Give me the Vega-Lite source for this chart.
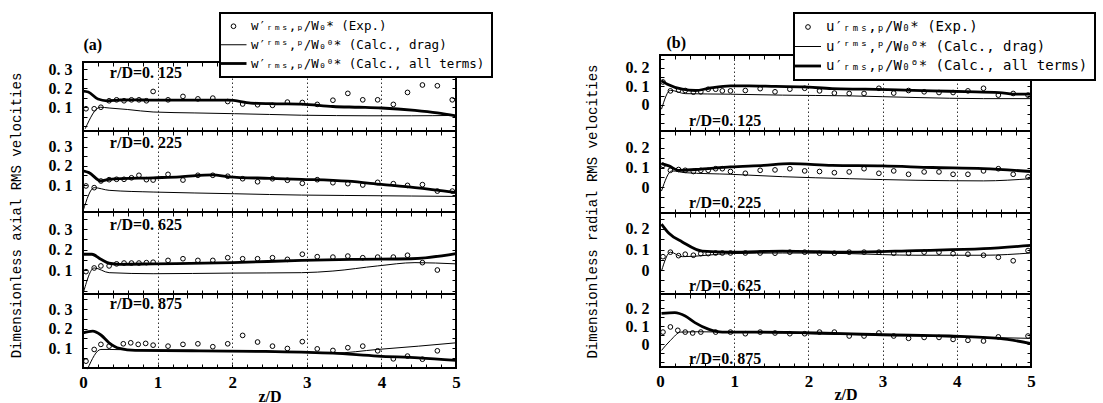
{
  "$schema": "https://vega.github.io/schema/vega-lite/v6.json",
  "background": "white",
  "padding": {"left": 7, "top": 11, "right": 0, "bottom": 0},
  "spacing": 89,
  "resolve": {"scale": {"color": "independent", "shape": "independent", "size": "independent", "strokeWidth": "independent"}, "legend": {"color": "independent", "shape": "independent", "size": "independent", "strokeWidth": "independent"}},
  "config": {
    "view": {"stroke": "black", "strokeWidth": 2},
    "axis": {"domain": false, "grid": false, "tickColor": "black", "tickWidth": 1, "labelColor": "black", "labelFont": "Liberation Serif", "labelFontWeight": "bold", "labelFontSize": 16, "labelOverlap": false, "labelFlush": false, "labelPadding": 15, "titleColor": "black", "titleFont": "Liberation Serif", "titleFontWeight": "bold", "titleFontSize": 16},
    "legend": {"labelFont": "DejaVu Sans Mono", "labelFontSize": 12.5, "labelColor": "black", "labelLimit": 500, "strokeColor": "black", "strokeWidth": 2, "fillColor": "white", "padding": 7, "symbolSize": 100, "labelOffset": 11, "rowPadding": 5.5, "symbolStrokeColor": "black", "symbolFillColor": "transparent"}
  },
  "datasets": {
    "a1": [
      {"s":"exp","z":0.04,"v":0.092},{"s":"exp","z":0.15,"v":0.092},{"s":"exp","z":0.24,"v":0.1},{"s":"exp","z":0.35,"v":0.134},{"s":"exp","z":0.45,"v":0.139},{"s":"exp","z":0.55,"v":0.134},{"s":"exp","z":0.65,"v":0.139},{"s":"exp","z":0.75,"v":0.139},{"s":"exp","z":0.85,"v":0.134},{"s":"exp","z":0.94,"v":0.183},{"s":"exp","z":1.14,"v":0.139},{"s":"exp","z":1.34,"v":0.157},{"s":"exp","z":1.54,"v":0.144},{"s":"exp","z":1.74,"v":0.148},{"s":"exp","z":1.94,"v":0.13},{"s":"exp","z":2.14,"v":0.117},{"s":"exp","z":2.34,"v":0.113},{"s":"exp","z":2.54,"v":0.11},{"s":"exp","z":2.74,"v":0.127},{"s":"exp","z":2.94,"v":0.125},{"s":"exp","z":3.14,"v":0.115},{"s":"exp","z":3.35,"v":0.137},{"s":"exp","z":3.55,"v":0.173},{"s":"exp","z":3.75,"v":0.139},{"s":"exp","z":3.95,"v":0.139},{"s":"exp","z":4.16,"v":0.115},{"s":"exp","z":4.35,"v":0.178},{"s":"exp","z":4.55,"v":0.217},{"s":"exp","z":4.75,"v":0.213},{"s":"exp","z":4.95,"v":0.139},
      {"s":"drag","z":0.03,"v":-0.013},{"s":"drag","z":0.23,"v":0.1},{"s":"drag","z":0.35,"v":0.096},{"s":"drag","z":0.6,"v":0.088},{"s":"drag","z":0.94,"v":0.075},{"s":"drag","z":1.5,"v":0.07},{"s":"drag","z":2.03,"v":0.066},{"s":"drag","z":2.5,"v":0.062},{"s":"drag","z":2.93,"v":0.058},{"s":"drag","z":3.4,"v":0.056},{"s":"drag","z":3.82,"v":0.055},{"s":"drag","z":4.4,"v":0.055},{"s":"drag","z":4.98,"v":0.057},
      {"s":"all","z":0.0,"v":0.185},{"s":"all","z":0.07,"v":0.18},{"s":"all","z":0.2,"v":0.143},{"s":"all","z":0.32,"v":0.134},{"s":"all","z":0.5,"v":0.138},{"s":"all","z":0.7,"v":0.139},{"s":"all","z":0.94,"v":0.137},{"s":"all","z":1.3,"v":0.137},{"s":"all","z":1.6,"v":0.137},{"s":"all","z":1.95,"v":0.137},{"s":"all","z":2.25,"v":0.122},{"s":"all","z":2.6,"v":0.118},{"s":"all","z":2.93,"v":0.116},{"s":"all","z":3.35,"v":0.104},{"s":"all","z":3.7,"v":0.1},{"s":"all","z":4.0,"v":0.096},{"s":"all","z":4.45,"v":0.083},{"s":"all","z":4.75,"v":0.07},{"s":"all","z":5.0,"v":0.055}
    ],
    "a2": [
      {"s":"exp","z":0.04,"v":0.095},{"s":"exp","z":0.15,"v":0.086},{"s":"exp","z":0.24,"v":0.121},{"s":"exp","z":0.35,"v":0.128},{"s":"exp","z":0.45,"v":0.13},{"s":"exp","z":0.55,"v":0.13},{"s":"exp","z":0.65,"v":0.138},{"s":"exp","z":0.75,"v":0.151},{"s":"exp","z":0.85,"v":0.128},{"s":"exp","z":0.94,"v":0.126},{"s":"exp","z":1.14,"v":0.156},{"s":"exp","z":1.34,"v":0.126},{"s":"exp","z":1.54,"v":0.151},{"s":"exp","z":1.74,"v":0.151},{"s":"exp","z":1.94,"v":0.146},{"s":"exp","z":2.14,"v":0.133},{"s":"exp","z":2.34,"v":0.117},{"s":"exp","z":2.54,"v":0.133},{"s":"exp","z":2.74,"v":0.125},{"s":"exp","z":2.94,"v":0.109},{"s":"exp","z":3.14,"v":0.128},{"s":"exp","z":3.35,"v":0.112},{"s":"exp","z":3.55,"v":0.107},{"s":"exp","z":3.75,"v":0.1},{"s":"exp","z":3.95,"v":0.114},{"s":"exp","z":4.16,"v":0.107},{"s":"exp","z":4.35,"v":0.098},{"s":"exp","z":4.55,"v":0.102},{"s":"exp","z":4.75,"v":0.068},{"s":"exp","z":4.95,"v":0.068},
      {"s":"drag","z":0.0,"v":-0.037},{"s":"drag","z":0.15,"v":0.086},{"s":"drag","z":0.35,"v":0.072},{"s":"drag","z":0.94,"v":0.063},{"s":"drag","z":1.5,"v":0.058},{"s":"drag","z":2.03,"v":0.054},{"s":"drag","z":2.5,"v":0.05},{"s":"drag","z":2.93,"v":0.047},{"s":"drag","z":3.5,"v":0.045},{"s":"drag","z":3.82,"v":0.044},{"s":"drag","z":4.4,"v":0.042},{"s":"drag","z":5.0,"v":0.04},
      {"s":"all","z":0.0,"v":0.174},{"s":"all","z":0.08,"v":0.165},{"s":"all","z":0.24,"v":0.121},{"s":"all","z":0.35,"v":0.13},{"s":"all","z":0.94,"v":0.138},{"s":"all","z":1.3,"v":0.143},{"s":"all","z":1.74,"v":0.153},{"s":"all","z":1.95,"v":0.143},{"s":"all","z":2.5,"v":0.135},{"s":"all","z":2.93,"v":0.13},{"s":"all","z":3.55,"v":0.12},{"s":"all","z":4.0,"v":0.103},{"s":"all","z":4.45,"v":0.086},{"s":"all","z":5.0,"v":0.06}
    ],
    "a3": [
      {"s":"exp","z":0.04,"v":0.092},{"s":"exp","z":0.15,"v":0.11},{"s":"exp","z":0.24,"v":0.12},{"s":"exp","z":0.35,"v":0.12},{"s":"exp","z":0.45,"v":0.13},{"s":"exp","z":0.55,"v":0.134},{"s":"exp","z":0.65,"v":0.134},{"s":"exp","z":0.75,"v":0.134},{"s":"exp","z":0.85,"v":0.136},{"s":"exp","z":0.94,"v":0.138},{"s":"exp","z":1.14,"v":0.147},{"s":"exp","z":1.34,"v":0.155},{"s":"exp","z":1.54,"v":0.147},{"s":"exp","z":1.74,"v":0.147},{"s":"exp","z":1.94,"v":0.16},{"s":"exp","z":2.14,"v":0.155},{"s":"exp","z":2.34,"v":0.155},{"s":"exp","z":2.54,"v":0.16},{"s":"exp","z":2.74,"v":0.152},{"s":"exp","z":2.94,"v":0.177},{"s":"exp","z":3.14,"v":0.165},{"s":"exp","z":3.35,"v":0.163},{"s":"exp","z":3.55,"v":0.168},{"s":"exp","z":3.75,"v":0.16},{"s":"exp","z":3.95,"v":0.163},{"s":"exp","z":4.16,"v":0.163},{"s":"exp","z":4.35,"v":0.172},{"s":"exp","z":4.55,"v":0.136},{"s":"exp","z":4.75,"v":0.1},
      {"s":"drag","z":0.0,"v":-0.017},{"s":"drag","z":0.15,"v":0.11},{"s":"drag","z":0.35,"v":0.087},{"s":"drag","z":0.94,"v":0.082},{"s":"drag","z":2.0,"v":0.085},{"s":"drag","z":2.93,"v":0.087},{"s":"drag","z":3.35,"v":0.095},{"s":"drag","z":3.95,"v":0.12},{"s":"drag","z":4.45,"v":0.136},{"s":"drag","z":5.0,"v":0.13},
      {"s":"all","z":0.0,"v":0.177},{"s":"all","z":0.12,"v":0.177},{"s":"all","z":0.24,"v":0.152},{"s":"all","z":0.35,"v":0.133},{"s":"all","z":0.5,"v":0.128},{"s":"all","z":0.94,"v":0.13},{"s":"all","z":2.0,"v":0.136},{"s":"all","z":2.93,"v":0.147},{"s":"all","z":3.6,"v":0.152},{"s":"all","z":4.4,"v":0.155},{"s":"all","z":5.0,"v":0.18}
    ],
    "a4": [
      {"s":"exp","z":0.04,"v":0.033},{"s":"exp","z":0.15,"v":0.093},{"s":"exp","z":0.24,"v":0.119},{"s":"exp","z":0.35,"v":0.11},{"s":"exp","z":0.54,"v":0.122},{"s":"exp","z":0.64,"v":0.127},{"s":"exp","z":0.74,"v":0.119},{"s":"exp","z":0.84,"v":0.124},{"s":"exp","z":0.94,"v":0.115},{"s":"exp","z":1.14,"v":0.11},{"s":"exp","z":1.34,"v":0.119},{"s":"exp","z":1.54,"v":0.122},{"s":"exp","z":1.74,"v":0.107},{"s":"exp","z":1.94,"v":0.122},{"s":"exp","z":2.14,"v":0.165},{"s":"exp","z":2.34,"v":0.131},{"s":"exp","z":2.54,"v":0.11},{"s":"exp","z":2.74,"v":0.098},{"s":"exp","z":2.94,"v":0.133},{"s":"exp","z":3.14,"v":0.096},{"s":"exp","z":3.35,"v":0.088},{"s":"exp","z":3.55,"v":0.102},{"s":"exp","z":3.75,"v":0.11},{"s":"exp","z":3.95,"v":0.086},{"s":"exp","z":4.16,"v":0.045},{"s":"exp","z":4.35,"v":0.059},{"s":"exp","z":4.55,"v":0.043},{"s":"exp","z":4.75,"v":0.086},
      {"s":"drag","z":0.06,"v":-0.008},{"s":"drag","z":0.24,"v":0.093},{"s":"drag","z":0.35,"v":0.093},{"s":"drag","z":0.94,"v":0.088},{"s":"drag","z":2.03,"v":0.083},{"s":"drag","z":2.93,"v":0.078},{"s":"drag","z":3.35,"v":0.074},{"s":"drag","z":3.95,"v":0.093},{"s":"drag","z":4.5,"v":0.11},{"s":"drag","z":5.0,"v":0.127},
      {"s":"all","z":0.0,"v":0.178},{"s":"all","z":0.13,"v":0.187},{"s":"all","z":0.24,"v":0.167},{"s":"all","z":0.35,"v":0.127},{"s":"all","z":0.49,"v":0.098},{"s":"all","z":0.7,"v":0.088},{"s":"all","z":1.56,"v":0.086},{"s":"all","z":2.45,"v":0.083},{"s":"all","z":3.35,"v":0.074},{"s":"all","z":3.95,"v":0.059},{"s":"all","z":4.5,"v":0.05},{"s":"all","z":5.0,"v":0.037}
    ],
    "b1": [
      {"s":"exp","z":0.04,"v":0.124},{"s":"exp","z":0.14,"v":0.076},{"s":"exp","z":0.25,"v":0.08},{"s":"exp","z":0.34,"v":0.078},{"s":"exp","z":0.45,"v":0.069},{"s":"exp","z":0.55,"v":0.071},{"s":"exp","z":0.65,"v":0.085},{"s":"exp","z":0.75,"v":0.085},{"s":"exp","z":0.84,"v":0.076},{"s":"exp","z":0.95,"v":0.076},{"s":"exp","z":1.15,"v":0.078},{"s":"exp","z":1.35,"v":0.088},{"s":"exp","z":1.55,"v":0.071},{"s":"exp","z":1.75,"v":0.085},{"s":"exp","z":1.95,"v":0.09},{"s":"exp","z":2.15,"v":0.076},{"s":"exp","z":2.35,"v":0.064},{"s":"exp","z":2.55,"v":0.062},{"s":"exp","z":2.75,"v":0.062},{"s":"exp","z":2.95,"v":0.09},{"s":"exp","z":3.15,"v":0.064},{"s":"exp","z":3.35,"v":0.078},{"s":"exp","z":3.56,"v":0.071},{"s":"exp","z":3.76,"v":0.067},{"s":"exp","z":3.95,"v":0.067},{"s":"exp","z":4.15,"v":0.076},{"s":"exp","z":4.36,"v":0.09},{"s":"exp","z":4.56,"v":0.053},{"s":"exp","z":4.76,"v":0.062},{"s":"exp","z":4.96,"v":0.053},
      {"s":"drag","z":0.02,"v":-0.023},{"s":"drag","z":0.14,"v":0.079},{"s":"drag","z":0.34,"v":0.061},{"s":"drag","z":0.95,"v":0.058},{"s":"drag","z":1.65,"v":0.053},{"s":"drag","z":2.55,"v":0.049},{"s":"drag","z":3.45,"v":0.04},{"s":"drag","z":4.36,"v":0.034},{"s":"drag","z":5.0,"v":0.034},
      {"s":"all","z":0.02,"v":0.13},{"s":"all","z":0.1,"v":0.112},{"s":"all","z":0.3,"v":0.085},{"s":"all","z":0.48,"v":0.078},{"s":"all","z":0.66,"v":0.09},{"s":"all","z":0.95,"v":0.103},{"s":"all","z":1.2,"v":0.103},{"s":"all","z":1.56,"v":0.1},{"s":"all","z":1.92,"v":0.098},{"s":"all","z":2.32,"v":0.088},{"s":"all","z":2.77,"v":0.085},{"s":"all","z":3.2,"v":0.081},{"s":"all","z":3.67,"v":0.076},{"s":"all","z":4.12,"v":0.072},{"s":"all","z":4.57,"v":0.067},{"s":"all","z":4.8,"v":0.058},{"s":"all","z":5.0,"v":0.058}
    ],
    "b2": [
      {"s":"exp","z":0.04,"v":0.111},{"s":"exp","z":0.14,"v":0.086},{"s":"exp","z":0.25,"v":0.09},{"s":"exp","z":0.34,"v":0.086},{"s":"exp","z":0.45,"v":0.08},{"s":"exp","z":0.55,"v":0.086},{"s":"exp","z":0.65,"v":0.086},{"s":"exp","z":0.75,"v":0.094},{"s":"exp","z":0.84,"v":0.094},{"s":"exp","z":0.95,"v":0.08},{"s":"exp","z":1.15,"v":0.071},{"s":"exp","z":1.35,"v":0.086},{"s":"exp","z":1.55,"v":0.088},{"s":"exp","z":1.75,"v":0.094},{"s":"exp","z":1.95,"v":0.083},{"s":"exp","z":2.15,"v":0.08},{"s":"exp","z":2.35,"v":0.074},{"s":"exp","z":2.55,"v":0.078},{"s":"exp","z":2.75,"v":0.094},{"s":"exp","z":2.95,"v":0.071},{"s":"exp","z":3.15,"v":0.083},{"s":"exp","z":3.35,"v":0.066},{"s":"exp","z":3.56,"v":0.078},{"s":"exp","z":3.76,"v":0.078},{"s":"exp","z":3.95,"v":0.066},{"s":"exp","z":4.15,"v":0.066},{"s":"exp","z":4.36,"v":0.083},{"s":"exp","z":4.56,"v":0.094},{"s":"exp","z":4.76,"v":0.066},{"s":"exp","z":4.96,"v":0.053},
      {"s":"drag","z":0.02,"v":-0.018},{"s":"drag","z":0.16,"v":0.083},{"s":"drag","z":0.34,"v":0.074},{"s":"drag","z":0.95,"v":0.066},{"s":"drag","z":1.65,"v":0.054},{"s":"drag","z":2.55,"v":0.044},{"s":"drag","z":3.45,"v":0.036},{"s":"drag","z":4.36,"v":0.033},{"s":"drag","z":5.0,"v":0.044},
      {"s":"all","z":0.02,"v":0.119},{"s":"all","z":0.12,"v":0.108},{"s":"all","z":0.25,"v":0.086},{"s":"all","z":0.48,"v":0.09},{"s":"all","z":0.95,"v":0.103},{"s":"all","z":1.4,"v":0.111},{"s":"all","z":1.75,"v":0.119},{"s":"all","z":2.32,"v":0.111},{"s":"all","z":3.0,"v":0.108},{"s":"all","z":3.67,"v":0.1},{"s":"all","z":4.36,"v":0.094},{"s":"all","z":5.0,"v":0.08}
    ],
    "b3": [
      {"s":"exp","z":0.04,"v":0.065},{"s":"exp","z":0.14,"v":0.087},{"s":"exp","z":0.25,"v":0.07},{"s":"exp","z":0.34,"v":0.077},{"s":"exp","z":0.45,"v":0.072},{"s":"exp","z":0.55,"v":0.08},{"s":"exp","z":0.65,"v":0.08},{"s":"exp","z":0.75,"v":0.083},{"s":"exp","z":0.84,"v":0.083},{"s":"exp","z":0.95,"v":0.083},{"s":"exp","z":1.15,"v":0.083},{"s":"exp","z":1.35,"v":0.083},{"s":"exp","z":1.55,"v":0.082},{"s":"exp","z":1.75,"v":0.087},{"s":"exp","z":1.95,"v":0.087},{"s":"exp","z":2.15,"v":0.082},{"s":"exp","z":2.35,"v":0.082},{"s":"exp","z":2.55,"v":0.087},{"s":"exp","z":2.75,"v":0.087},{"s":"exp","z":2.95,"v":0.087},{"s":"exp","z":3.15,"v":0.082},{"s":"exp","z":3.35,"v":0.082},{"s":"exp","z":3.56,"v":0.087},{"s":"exp","z":3.76,"v":0.087},{"s":"exp","z":3.95,"v":0.08},{"s":"exp","z":4.15,"v":0.077},{"s":"exp","z":4.36,"v":0.072},{"s":"exp","z":4.56,"v":0.062},{"s":"exp","z":4.76,"v":0.045},{"s":"exp","z":4.96,"v":0.095},
      {"s":"drag","z":0.02,"v":-0.005},{"s":"drag","z":0.14,"v":0.087},{"s":"drag","z":0.3,"v":0.065},{"s":"drag","z":0.95,"v":0.08},{"s":"drag","z":1.65,"v":0.083},{"s":"drag","z":2.55,"v":0.08},{"s":"drag","z":3.0,"v":0.075},{"s":"drag","z":3.45,"v":0.072},{"s":"drag","z":4.36,"v":0.072},{"s":"drag","z":5.0,"v":0.083},
      {"s":"all","z":0.02,"v":0.224},{"s":"all","z":0.12,"v":0.179},{"s":"all","z":0.3,"v":0.137},{"s":"all","z":0.57,"v":0.092},{"s":"all","z":0.95,"v":0.087},{"s":"all","z":1.65,"v":0.092},{"s":"all","z":2.55,"v":0.087},{"s":"all","z":3.45,"v":0.095},{"s":"all","z":4.36,"v":0.104},{"s":"all","z":5.0,"v":0.12}
    ],
    "b4": [
      {"s":"exp","z":0.04,"v":0.067},{"s":"exp","z":0.14,"v":0.096},{"s":"exp","z":0.24,"v":0.077},{"s":"exp","z":0.34,"v":0.067},{"s":"exp","z":0.44,"v":0.062},{"s":"exp","z":0.55,"v":0.067},{"s":"exp","z":0.75,"v":0.067},{"s":"exp","z":0.95,"v":0.067},{"s":"exp","z":1.15,"v":0.058},{"s":"exp","z":1.35,"v":0.067},{"s":"exp","z":1.55,"v":0.062},{"s":"exp","z":1.75,"v":0.058},{"s":"exp","z":1.95,"v":0.058},{"s":"exp","z":2.15,"v":0.067},{"s":"exp","z":2.35,"v":0.067},{"s":"exp","z":2.55,"v":0.045},{"s":"exp","z":2.75,"v":0.045},{"s":"exp","z":2.95,"v":0.062},{"s":"exp","z":3.15,"v":0.045},{"s":"exp","z":3.35,"v":0.032},{"s":"exp","z":3.56,"v":0.037},{"s":"exp","z":3.76,"v":0.037},{"s":"exp","z":3.95,"v":0.026},{"s":"exp","z":4.15,"v":0.021},{"s":"exp","z":4.36,"v":0.017},{"s":"exp","z":4.56,"v":0.04},{"s":"exp","z":4.96,"v":0.045},
      {"s":"drag","z":0.02,"v":-0.036},{"s":"drag","z":0.14,"v":0.02},{"s":"drag","z":0.28,"v":0.067},{"s":"drag","z":0.5,"v":0.069},{"s":"drag","z":0.95,"v":0.067},{"s":"drag","z":1.65,"v":0.062},{"s":"drag","z":2.55,"v":0.053},{"s":"drag","z":3.45,"v":0.045},{"s":"drag","z":4.36,"v":0.037},{"s":"drag","z":5.0,"v":0.032},
      {"s":"all","z":0.02,"v":0.172},{"s":"all","z":0.2,"v":0.176},{"s":"all","z":0.34,"v":0.157},{"s":"all","z":0.47,"v":0.12},{"s":"all","z":0.66,"v":0.082},{"s":"all","z":0.84,"v":0.067},{"s":"all","z":1.2,"v":0.067},{"s":"all","z":2.1,"v":0.062},{"s":"all","z":3.0,"v":0.052},{"s":"all","z":3.9,"v":0.045},{"s":"all","z":4.57,"v":0.032},{"s":"all","z":5.0,"v":0.002}
    ]
  },
  "hconcat": [
    {
      "bounds": "flush",
      "spacing": 0,
      "resolve": {"scale": {"color": "independent", "shape": "independent", "size": "independent", "strokeWidth": "independent"}, "legend": {"color": "independent", "shape": "independent", "size": "independent", "strokeWidth": "independent"}},
      "vconcat": [
        {"width": 373, "height": 7, "view": {"stroke": null}, "data": {"values": []}, "mark": {"type": "point"}, "encoding": {}},
        {
          "width": 373, "height": 69,
          "resolve": {"axis": {"x": "independent", "y": "independent"}},
          "layer": [
            {"data": {"name": "a1"}, "transform": [{"filter": "datum.s === 'exp'"}],
             "mark": {"type": "point", "filled": false, "strokeWidth": 1, "opacity": 1},
             "encoding": {
               "x": {"field": "z", "type": "quantitative", "scale": {"domain": [0, 5], "nice": false}, "axis": {"orient": "bottom", "values": [0,0.2,0.4,0.6,0.8,1,1.2,1.4,1.6,1.8,2,2.2,2.4,2.6,2.8,3,3.2,3.4,3.6,3.8,4,4.2,4.4,4.6,4.8,5], "labels": false, "tickSize": -4, "title": null}},
               "y": {"field": "v", "type": "quantitative", "scale": {"domain": [-0.025, 0.338], "nice": false, "zero": false}, "axis": {"orient": "left", "values": [0,0.05,0.1,0.15,0.2,0.25,0.3], "tickSize": -4, "title": null, "labelExpr": "indexof([0.1,0.2,0.3], datum.value) >= 0 ? replace(format(datum.value, '.1f'), '.', '. ') : ''"}},
               "color": {"field": "s", "type": "nominal", "scale": {"domain": ["exp", "drag", "all"], "range": ["black", "black", "black"]},
                 "legend": {"orient": "none", "legendX": 137, "legendY": -49, "title": null,
                   "labelExpr": "datum.value === 'exp' ? 'w′ᵣₘₛ,ₚ/W₀* (Exp.)' : datum.value === 'drag' ? 'w′ʳᵐˢ,ᵖ/W₀⁰* (Calc., drag)' : 'w′ᵣₘₛ,ₚ/W₀⁰* (Calc., all terms)'"}},
               "shape": {"field": "s", "type": "nominal", "scale": {"domain": ["exp", "drag", "all"], "range": ["circle", "M-2.6,0H2.6", "M-2.6,0H2.6"]},
                 "legend": {"orient": "none", "legendX": 137, "legendY": -49, "title": null,
                   "labelExpr": "datum.value === 'exp' ? 'w′ᵣₘₛ,ₚ/W₀* (Exp.)' : datum.value === 'drag' ? 'w′ʳᵐˢ,ᵖ/W₀⁰* (Calc., drag)' : 'w′ᵣₘₛ,ₚ/W₀⁰* (Calc., all terms)'"}},
               "size": {"field": "s", "type": "nominal", "scale": {"type": "ordinal", "domain": ["exp", "drag", "all"], "range": [22, 100, 100]},
                 "legend": {"orient": "none", "legendX": 137, "legendY": -49, "title": null,
                   "labelExpr": "datum.value === 'exp' ? 'w′ᵣₘₛ,ₚ/W₀* (Exp.)' : datum.value === 'drag' ? 'w′ʳᵐˢ,ᵖ/W₀⁰* (Calc., drag)' : 'w′ᵣₘₛ,ₚ/W₀⁰* (Calc., all terms)'"}}
             }},
            {"data": {"name": "a1"}, "transform": [{"filter": "datum.s === 'drag'"}],
             "mark": {"type": "line", "interpolate": "monotone"},
             "encoding": {
               "x": {"field": "z", "type": "quantitative", "axis": {"orient": "top", "values": [0,0.2,0.4,0.6,0.8,1,1.2,1.4,1.6,1.8,2,2.2,2.4,2.6,2.8,3,3.2,3.4,3.6,3.8,4,4.2,4.4,4.6,4.8,5], "labels": false, "tickSize": -4,
                 "title": "(a)", "titleX": 0, "titleY": -13, "titleAlign": "left", "titleBaseline": "alphabetic", "titleAngle": 0}},
               "y": {"field": "v", "type": "quantitative", "axis": {"orient": "right", "values": [0,0.05,0.1,0.15,0.2,0.25,0.3], "labels": false, "tickSize": -4, "title": null}},
               "color": {"field": "s", "type": "nominal"},
               "strokeWidth": {"field": "s", "type": "nominal", "scale": {"type": "ordinal", "domain": ["exp", "drag", "all"], "range": [1, 1, 2.8]},
                 "legend": {"orient": "none", "legendX": 137, "legendY": -49, "title": null,
                   "labelExpr": "datum.value === 'exp' ? 'w′ᵣₘₛ,ₚ/W₀* (Exp.)' : datum.value === 'drag' ? 'w′ʳᵐˢ,ᵖ/W₀⁰* (Calc., drag)' : 'w′ᵣₘₛ,ₚ/W₀⁰* (Calc., all terms)'"}}
             }},
            {"data": {"name": "a1"}, "transform": [{"filter": "datum.s === 'all'"}],
             "mark": {"type": "line", "interpolate": "monotone"},
             "encoding": {
               "x": {"field": "z", "type": "quantitative", "axis": {"orient": "bottom", "values": [1,2,3,4], "grid": true, "gridDash": [1.5,2.5], "gridColor": "black", "gridOpacity": 0.8, "ticks": false, "labels": false, "title": null}},
               "y": {"field": "v", "type": "quantitative", "axis": null},
               "color": {"field": "s", "type": "nominal"},
               "strokeWidth": {"field": "s", "type": "nominal", "scale": {"type": "ordinal", "domain": ["exp", "drag", "all"], "range": [1, 1, 2.8]},
                 "legend": {"orient": "none", "legendX": 137, "legendY": -49, "title": null,
                   "labelExpr": "datum.value === 'exp' ? 'w′ᵣₘₛ,ₚ/W₀* (Exp.)' : datum.value === 'drag' ? 'w′ʳᵐˢ,ᵖ/W₀⁰* (Calc., drag)' : 'w′ᵣₘₛ,ₚ/W₀⁰* (Calc., all terms)'"}}
             }},
            {"data": {"values": [{"t": "r/D=0. 125"}]},
             "mark": {"type": "text", "align": "left", "baseline": "middle", "font": "Liberation Serif", "fontWeight": "bold", "fontSize": 16, "color": "black"},
             "encoding": {"x": {"datum": 0.36, "type": "quantitative", "axis": null}, "y": {"datum": 0.28, "type": "quantitative", "axis": null}, "text": {"field": "t"}}}
          ]
        },
        {
          "width": 373, "height": 81,
          "resolve": {"axis": {"x": "independent", "y": "independent"}},
          "layer": [
            {"data": {"name": "a2"}, "transform": [{"filter": "datum.s === 'exp'"}],
             "mark": {"type": "point", "shape": "circle", "filled": false, "size": 22, "strokeWidth": 1, "color": "black", "opacity": 1},
             "encoding": {
               "x": {"field": "z", "type": "quantitative", "scale": {"domain": [0, 5], "nice": false}, "axis": {"orient": "bottom", "values": [0,0.2,0.4,0.6,0.8,1,1.2,1.4,1.6,1.8,2,2.2,2.4,2.6,2.8,3,3.2,3.4,3.6,3.8,4,4.2,4.4,4.6,4.8,5], "labels": false, "tickSize": -4, "title": null}},
               "y": {"field": "v", "type": "quantitative", "scale": {"domain": [-0.042, 0.384], "nice": false, "zero": false}, "axis": {"orient": "left", "values": [0,0.05,0.1,0.15,0.2,0.25,0.3,0.35], "tickSize": -4, "labelExpr": "indexof([0.1,0.2,0.3], datum.value) >= 0 ? replace(format(datum.value, '.1f'), '.', '. ') : ''",
                 "title": "Dimensionless axial RMS velocities", "titleX": -67, "titleY": 84, "titleAngle": -90, "titleAlign": "center", "titleBaseline": "middle", "titleFont": "Liberation Mono", "titleFontWeight": "normal", "titleFontSize": 14}}
             }},
            {"data": {"name": "a2"}, "transform": [{"filter": "datum.s === 'drag'"}],
             "mark": {"type": "line", "strokeWidth": 1, "color": "black", "interpolate": "monotone"},
             "encoding": {
               "x": {"field": "z", "type": "quantitative", "axis": {"orient": "top", "values": [0,0.2,0.4,0.6,0.8,1,1.2,1.4,1.6,1.8,2,2.2,2.4,2.6,2.8,3,3.2,3.4,3.6,3.8,4,4.2,4.4,4.6,4.8,5], "labels": false, "tickSize": -4, "title": null}},
               "y": {"field": "v", "type": "quantitative", "axis": {"orient": "right", "values": [0,0.05,0.1,0.15,0.2,0.25,0.3,0.35], "labels": false, "tickSize": -4, "title": null}}
             }},
            {"data": {"name": "a2"}, "transform": [{"filter": "datum.s === 'all'"}],
             "mark": {"type": "line", "strokeWidth": 2.8, "color": "black", "interpolate": "monotone"},
             "encoding": {
               "x": {"field": "z", "type": "quantitative", "axis": {"orient": "bottom", "values": [1,2,3,4], "grid": true, "gridDash": [1.5,2.5], "gridColor": "black", "gridOpacity": 0.8, "ticks": false, "labels": false, "title": null}},
               "y": {"field": "v", "type": "quantitative", "axis": null}
             }},
            {"data": {"values": [{"t": "r/D=0. 225"}]},
             "mark": {"type": "text", "align": "left", "baseline": "middle", "font": "Liberation Serif", "fontWeight": "bold", "fontSize": 16, "color": "black"},
             "encoding": {"x": {"datum": 0.36, "type": "quantitative", "axis": null}, "y": {"datum": 0.32, "type": "quantitative", "axis": null}, "text": {"field": "t"}}}
          ]
        },
        {
          "width": 373, "height": 82,
          "resolve": {"axis": {"x": "independent", "y": "independent"}},
          "layer": [
            {"data": {"name": "a3"}, "transform": [{"filter": "datum.s === 'exp'"}],
             "mark": {"type": "point", "shape": "circle", "filled": false, "size": 22, "strokeWidth": 1, "color": "black", "opacity": 1},
             "encoding": {
               "x": {"field": "z", "type": "quantitative", "scale": {"domain": [0, 5], "nice": false}, "axis": {"orient": "bottom", "values": [0,0.2,0.4,0.6,0.8,1,1.2,1.4,1.6,1.8,2,2.2,2.4,2.6,2.8,3,3.2,3.4,3.6,3.8,4,4.2,4.4,4.6,4.8,5], "labels": false, "tickSize": -4, "title": null}},
               "y": {"field": "v", "type": "quantitative", "scale": {"domain": [-0.017, 0.383], "nice": false, "zero": false}, "axis": {"orient": "left", "values": [0,0.05,0.1,0.15,0.2,0.25,0.3,0.35], "tickSize": -4, "title": null, "labelExpr": "indexof([0.1,0.2,0.3], datum.value) >= 0 ? replace(format(datum.value, '.1f'), '.', '. ') : ''"}}
             }},
            {"data": {"name": "a3"}, "transform": [{"filter": "datum.s === 'drag'"}],
             "mark": {"type": "line", "strokeWidth": 1, "color": "black", "interpolate": "monotone"},
             "encoding": {
               "x": {"field": "z", "type": "quantitative", "axis": {"orient": "top", "values": [0,0.2,0.4,0.6,0.8,1,1.2,1.4,1.6,1.8,2,2.2,2.4,2.6,2.8,3,3.2,3.4,3.6,3.8,4,4.2,4.4,4.6,4.8,5], "labels": false, "tickSize": -4, "title": null}},
               "y": {"field": "v", "type": "quantitative", "axis": {"orient": "right", "values": [0,0.05,0.1,0.15,0.2,0.25,0.3,0.35], "labels": false, "tickSize": -4, "title": null}}
             }},
            {"data": {"name": "a3"}, "transform": [{"filter": "datum.s === 'all'"}],
             "mark": {"type": "line", "strokeWidth": 2.8, "color": "black", "interpolate": "monotone"},
             "encoding": {
               "x": {"field": "z", "type": "quantitative", "axis": {"orient": "bottom", "values": [1,2,3,4], "grid": true, "gridDash": [1.5,2.5], "gridColor": "black", "gridOpacity": 0.8, "ticks": false, "labels": false, "title": null}},
               "y": {"field": "v", "type": "quantitative", "axis": null}
             }},
            {"data": {"values": [{"t": "r/D=0. 625"}]},
             "mark": {"type": "text", "align": "left", "baseline": "middle", "font": "Liberation Serif", "fontWeight": "bold", "fontSize": 16, "color": "black"},
             "encoding": {"x": {"datum": 0.36, "type": "quantitative", "axis": null}, "y": {"datum": 0.32, "type": "quantitative", "axis": null}, "text": {"field": "t"}}}
          ]
        },
        {
          "width": 373, "height": 74,
          "resolve": {"axis": {"x": "independent", "y": "independent"}},
          "layer": [
            {"data": {"name": "a4"}, "transform": [{"filter": "datum.s === 'exp'"}],
             "mark": {"type": "point", "shape": "circle", "filled": false, "size": 22, "strokeWidth": 1, "color": "black", "opacity": 1},
             "encoding": {
               "x": {"field": "z", "type": "quantitative", "scale": {"domain": [0, 5], "nice": false}, "axis": {"orient": "bottom", "values": [0,0.2,0.4,0.6,0.8,1,1.2,1.4,1.6,1.8,2,2.2,2.4,2.6,2.8,3,3.2,3.4,3.6,3.8,4,4.2,4.4,4.6,4.8,5], "tickSize": -4, "labelPadding": 10, "labelFontSize": 17, "labelExpr": "indexof([0,1,2,3,4,5], datum.value) >= 0 ? format(datum.value, 'd') : ''", "title": "z/D", "titlePadding": -2}},
               "y": {"field": "v", "type": "quantitative", "scale": {"domain": [-0.002, 0.377], "nice": false, "zero": false}, "axis": {"orient": "left", "values": [0.05,0.1,0.15,0.2,0.25,0.3,0.35], "tickSize": -4, "title": null, "labelExpr": "indexof([0.1,0.2,0.3], datum.value) >= 0 ? replace(format(datum.value, '.1f'), '.', '. ') : ''"}}
             }},
            {"data": {"name": "a4"}, "transform": [{"filter": "datum.s === 'drag'"}],
             "mark": {"type": "line", "strokeWidth": 1, "color": "black", "interpolate": "monotone"},
             "encoding": {
               "x": {"field": "z", "type": "quantitative", "axis": {"orient": "top", "values": [0,0.2,0.4,0.6,0.8,1,1.2,1.4,1.6,1.8,2,2.2,2.4,2.6,2.8,3,3.2,3.4,3.6,3.8,4,4.2,4.4,4.6,4.8,5], "labels": false, "tickSize": -4, "title": null}},
               "y": {"field": "v", "type": "quantitative", "axis": {"orient": "right", "values": [0.05,0.1,0.15,0.2,0.25,0.3,0.35], "labels": false, "tickSize": -4, "title": null}}
             }},
            {"data": {"name": "a4"}, "transform": [{"filter": "datum.s === 'all'"}],
             "mark": {"type": "line", "strokeWidth": 2.8, "color": "black", "interpolate": "monotone"},
             "encoding": {
               "x": {"field": "z", "type": "quantitative", "axis": {"orient": "bottom", "values": [1,2,3,4], "grid": true, "gridDash": [1.5,2.5], "gridColor": "black", "gridOpacity": 0.8, "ticks": false, "labels": false, "title": null}},
               "y": {"field": "v", "type": "quantitative", "axis": null}
             }},
            {"data": {"values": [{"t": "r/D=0. 875"}]},
             "mark": {"type": "text", "align": "left", "baseline": "middle", "font": "Liberation Serif", "fontWeight": "bold", "fontSize": 16, "color": "black"},
             "encoding": {"x": {"datum": 0.36, "type": "quantitative", "axis": null}, "y": {"datum": 0.326, "type": "quantitative", "axis": null}, "text": {"field": "t"}}}
          ]
        }
      ]
    },
    {
      "bounds": "flush",
      "spacing": 0,
      "resolve": {"scale": {"color": "independent", "shape": "independent", "size": "independent", "strokeWidth": "independent"}, "legend": {"color": "independent", "shape": "independent", "size": "independent", "strokeWidth": "independent"}},
      "vconcat": [
        {
          "width": 371, "height": 76,
          "resolve": {"axis": {"x": "independent", "y": "independent"}},
          "layer": [
            {"data": {"name": "b1"}, "transform": [{"filter": "datum.s === 'exp'"}],
             "mark": {"type": "point", "filled": false, "strokeWidth": 1, "opacity": 1},
             "encoding": {
               "x": {"field": "z", "type": "quantitative", "scale": {"domain": [0, 5], "nice": false}, "axis": {"orient": "bottom", "values": [0,0.2,0.4,0.6,0.8,1,1.2,1.4,1.6,1.8,2,2.2,2.4,2.6,2.8,3,3.2,3.4,3.6,3.8,4,4.2,4.4,4.6,4.8,5], "labels": false, "tickSize": -4, "title": null}},
               "y": {"field": "v", "type": "quantitative", "scale": {"domain": [-0.141, 0.27], "nice": false, "zero": false}, "axis": {"orient": "left", "values": [-0.1,-0.05,0,0.05,0.1,0.15,0.2,0.25], "tickSize": -4, "title": null, "labelExpr": "datum.value === 0 ? '0' : indexof([0.1,0.2], datum.value) >= 0 ? replace(format(datum.value, '.1f'), '.', '. ') : ''"}},
               "color": {"field": "s", "type": "nominal", "scale": {"domain": ["exp", "drag", "all"], "range": ["black", "black", "black"]},
                 "legend": {"orient": "none", "legendX": 134, "legendY": -42, "title": null, "labelFontSize": 14,
                   "labelExpr": "datum.value === 'exp' ? 'u′ᵣₘₛ,ₚ/W₀* (Exp.)' : datum.value === 'drag' ? 'u′ʳᵐˢ,ᵖ/W₀⁰* (Calc., drag)' : 'u′ᵣₘₛ,ₚ/W₀⁰* (Calc., all terms)'"}},
               "shape": {"field": "s", "type": "nominal", "scale": {"domain": ["exp", "drag", "all"], "range": ["circle", "M-2.6,0H2.6", "M-2.6,0H2.6"]},
                 "legend": {"orient": "none", "legendX": 134, "legendY": -42, "title": null, "labelFontSize": 14,
                   "labelExpr": "datum.value === 'exp' ? 'u′ᵣₘₛ,ₚ/W₀* (Exp.)' : datum.value === 'drag' ? 'u′ʳᵐˢ,ᵖ/W₀⁰* (Calc., drag)' : 'u′ᵣₘₛ,ₚ/W₀⁰* (Calc., all terms)'"}},
               "size": {"field": "s", "type": "nominal", "scale": {"type": "ordinal", "domain": ["exp", "drag", "all"], "range": [22, 100, 100]},
                 "legend": {"orient": "none", "legendX": 134, "legendY": -42, "title": null, "labelFontSize": 14,
                   "labelExpr": "datum.value === 'exp' ? 'u′ᵣₘₛ,ₚ/W₀* (Exp.)' : datum.value === 'drag' ? 'u′ʳᵐˢ,ᵖ/W₀⁰* (Calc., drag)' : 'u′ᵣₘₛ,ₚ/W₀⁰* (Calc., all terms)'"}}
             }},
            {"data": {"name": "b1"}, "transform": [{"filter": "datum.s === 'drag'"}],
             "mark": {"type": "line", "interpolate": "monotone"},
             "encoding": {
               "x": {"field": "z", "type": "quantitative", "axis": {"orient": "top", "values": [0,0.2,0.4,0.6,0.8,1,1.2,1.4,1.6,1.8,2,2.2,2.4,2.6,2.8,3,3.2,3.4,3.6,3.8,4,4.2,4.4,4.6,4.8,5], "labels": false, "tickSize": -4,
                 "title": "(b)", "titleX": 6, "titleY": -8, "titleAlign": "left", "titleBaseline": "alphabetic", "titleAngle": 0}},
               "y": {"field": "v", "type": "quantitative", "axis": {"orient": "right", "values": [-0.1,-0.05,0,0.05,0.1,0.15,0.2,0.25], "labels": false, "tickSize": -4, "title": null}},
               "color": {"field": "s", "type": "nominal"},
               "strokeWidth": {"field": "s", "type": "nominal", "scale": {"type": "ordinal", "domain": ["exp", "drag", "all"], "range": [1, 1, 2.8]},
                 "legend": {"orient": "none", "legendX": 134, "legendY": -42, "title": null, "labelFontSize": 14,
                   "labelExpr": "datum.value === 'exp' ? 'u′ᵣₘₛ,ₚ/W₀* (Exp.)' : datum.value === 'drag' ? 'u′ʳᵐˢ,ᵖ/W₀⁰* (Calc., drag)' : 'u′ᵣₘₛ,ₚ/W₀⁰* (Calc., all terms)'"}}
             }},
            {"data": {"name": "b1"}, "transform": [{"filter": "datum.s === 'all'"}],
             "mark": {"type": "line", "interpolate": "monotone"},
             "encoding": {
               "x": {"field": "z", "type": "quantitative", "axis": {"orient": "bottom", "values": [1,2,3,4], "grid": true, "gridDash": [1.5,2.5], "gridColor": "black", "gridOpacity": 0.8, "ticks": false, "labels": false, "title": null}},
               "y": {"field": "v", "type": "quantitative", "axis": null},
               "color": {"field": "s", "type": "nominal"},
               "strokeWidth": {"field": "s", "type": "nominal", "scale": {"type": "ordinal", "domain": ["exp", "drag", "all"], "range": [1, 1, 2.8]},
                 "legend": {"orient": "none", "legendX": 134, "legendY": -42, "title": null, "labelFontSize": 14,
                   "labelExpr": "datum.value === 'exp' ? 'u′ᵣₘₛ,ₚ/W₀* (Exp.)' : datum.value === 'drag' ? 'u′ʳᵐˢ,ᵖ/W₀⁰* (Calc., drag)' : 'u′ᵣₘₛ,ₚ/W₀⁰* (Calc., all terms)'"}}
             }},
            {"data": {"values": [{"t": "r/D=0. 125"}]},
             "mark": {"type": "text", "align": "left", "baseline": "middle", "font": "Liberation Serif", "fontWeight": "bold", "fontSize": 16, "color": "black"},
             "encoding": {"x": {"datum": 0.39, "type": "quantitative", "axis": null}, "y": {"datum": -0.086, "type": "quantitative", "axis": null}, "text": {"field": "t"}}}
          ]
        },
        {
          "width": 371, "height": 82,
          "resolve": {"axis": {"x": "independent", "y": "independent"}},
          "layer": [
            {"data": {"name": "b2"}, "transform": [{"filter": "datum.s === 'exp'"}],
             "mark": {"type": "point", "shape": "circle", "filled": false, "size": 22, "strokeWidth": 1, "color": "black", "opacity": 1},
             "encoding": {
               "x": {"field": "z", "type": "quantitative", "scale": {"domain": [0, 5], "nice": false}, "axis": {"orient": "bottom", "values": [0,0.2,0.4,0.6,0.8,1,1.2,1.4,1.6,1.8,2,2.2,2.4,2.6,2.8,3,3.2,3.4,3.6,3.8,4,4.2,4.4,4.6,4.8,5], "labels": false, "tickSize": -4, "title": null}},
               "y": {"field": "v", "type": "quantitative", "scale": {"domain": [-0.128, 0.283], "nice": false, "zero": false}, "axis": {"orient": "left", "values": [-0.1,-0.05,0,0.05,0.1,0.15,0.2,0.25], "tickSize": -4, "labelExpr": "datum.value === 0 ? '0' : indexof([0.1,0.2], datum.value) >= 0 ? replace(format(datum.value, '.1f'), '.', '. ') : ''",
                 "title": "Dimensionless radial RMS velocities", "titleX": -68, "titleY": 80, "titleAngle": -90, "titleAlign": "center", "titleBaseline": "middle", "titleFont": "Liberation Mono", "titleFontWeight": "normal", "titleFontSize": 14}}
             }},
            {"data": {"name": "b2"}, "transform": [{"filter": "datum.s === 'drag'"}],
             "mark": {"type": "line", "strokeWidth": 1, "color": "black", "interpolate": "monotone"},
             "encoding": {
               "x": {"field": "z", "type": "quantitative", "axis": {"orient": "top", "values": [0,0.2,0.4,0.6,0.8,1,1.2,1.4,1.6,1.8,2,2.2,2.4,2.6,2.8,3,3.2,3.4,3.6,3.8,4,4.2,4.4,4.6,4.8,5], "labels": false, "tickSize": -4, "title": null}},
               "y": {"field": "v", "type": "quantitative", "axis": {"orient": "right", "values": [-0.1,-0.05,0,0.05,0.1,0.15,0.2,0.25], "labels": false, "tickSize": -4, "title": null}}
             }},
            {"data": {"name": "b2"}, "transform": [{"filter": "datum.s === 'all'"}],
             "mark": {"type": "line", "strokeWidth": 2.8, "color": "black", "interpolate": "monotone"},
             "encoding": {
               "x": {"field": "z", "type": "quantitative", "axis": {"orient": "bottom", "values": [1,2,3,4], "grid": true, "gridDash": [1.5,2.5], "gridColor": "black", "gridOpacity": 0.8, "ticks": false, "labels": false, "title": null}},
               "y": {"field": "v", "type": "quantitative", "axis": null}
             }},
            {"data": {"values": [{"t": "r/D=0. 225"}]},
             "mark": {"type": "text", "align": "left", "baseline": "middle", "font": "Liberation Serif", "fontWeight": "bold", "fontSize": 16, "color": "black"},
             "encoding": {"x": {"datum": 0.39, "type": "quantitative", "axis": null}, "y": {"datum": -0.078, "type": "quantitative", "axis": null}, "text": {"field": "t"}}}
          ]
        },
        {
          "width": 371, "height": 81,
          "resolve": {"axis": {"x": "independent", "y": "independent"}},
          "layer": [
            {"data": {"name": "b3"}, "transform": [{"filter": "datum.s === 'exp'"}],
             "mark": {"type": "point", "shape": "circle", "filled": false, "size": 22, "strokeWidth": 1, "color": "black", "opacity": 1},
             "encoding": {
               "x": {"field": "z", "type": "quantitative", "scale": {"domain": [0, 5], "nice": false}, "axis": {"orient": "bottom", "values": [0,0.2,0.4,0.6,0.8,1,1.2,1.4,1.6,1.8,2,2.2,2.4,2.6,2.8,3,3.2,3.4,3.6,3.8,4,4.2,4.4,4.6,4.8,5], "labels": false, "tickSize": -4, "title": null}},
               "y": {"field": "v", "type": "quantitative", "scale": {"domain": [-0.117, 0.278], "nice": false, "zero": false}, "axis": {"orient": "left", "values": [-0.1,-0.05,0,0.05,0.1,0.15,0.2,0.25], "tickSize": -4, "title": null, "labelExpr": "datum.value === 0 ? '0' : indexof([0.1,0.2], datum.value) >= 0 ? replace(format(datum.value, '.1f'), '.', '. ') : ''"}}
             }},
            {"data": {"name": "b3"}, "transform": [{"filter": "datum.s === 'drag'"}],
             "mark": {"type": "line", "strokeWidth": 1, "color": "black", "interpolate": "monotone"},
             "encoding": {
               "x": {"field": "z", "type": "quantitative", "axis": {"orient": "top", "values": [0,0.2,0.4,0.6,0.8,1,1.2,1.4,1.6,1.8,2,2.2,2.4,2.6,2.8,3,3.2,3.4,3.6,3.8,4,4.2,4.4,4.6,4.8,5], "labels": false, "tickSize": -4, "title": null}},
               "y": {"field": "v", "type": "quantitative", "axis": {"orient": "right", "values": [-0.1,-0.05,0,0.05,0.1,0.15,0.2,0.25], "labels": false, "tickSize": -4, "title": null}}
             }},
            {"data": {"name": "b3"}, "transform": [{"filter": "datum.s === 'all'"}],
             "mark": {"type": "line", "strokeWidth": 2.8, "color": "black", "interpolate": "monotone"},
             "encoding": {
               "x": {"field": "z", "type": "quantitative", "axis": {"orient": "bottom", "values": [1,2,3,4], "grid": true, "gridDash": [1.5,2.5], "gridColor": "black", "gridOpacity": 0.8, "ticks": false, "labels": false, "title": null}},
               "y": {"field": "v", "type": "quantitative", "axis": null}
             }},
            {"data": {"values": [{"t": "r/D=0. 625"}]},
             "mark": {"type": "text", "align": "left", "baseline": "middle", "font": "Liberation Serif", "fontWeight": "bold", "fontSize": 16, "color": "black"},
             "encoding": {"x": {"datum": 0.39, "type": "quantitative", "axis": null}, "y": {"datum": -0.078, "type": "quantitative", "axis": null}, "text": {"field": "t"}}}
          ]
        },
        {
          "width": 371, "height": 73,
          "resolve": {"axis": {"x": "independent", "y": "independent"}},
          "layer": [
            {"data": {"name": "b4"}, "transform": [{"filter": "datum.s === 'exp'"}],
             "mark": {"type": "point", "shape": "circle", "filled": false, "size": 22, "strokeWidth": 1, "color": "black", "opacity": 1},
             "encoding": {
               "x": {"field": "z", "type": "quantitative", "scale": {"domain": [0, 5], "nice": false}, "axis": {"orient": "bottom", "values": [0,0.2,0.4,0.6,0.8,1,1.2,1.4,1.6,1.8,2,2.2,2.4,2.6,2.8,3,3.2,3.4,3.6,3.8,4,4.2,4.4,4.6,4.8,5], "tickSize": -4, "labelPadding": 10, "labelFontSize": 17, "labelExpr": "indexof([0,1,2,3,4,5], datum.value) >= 0 ? format(datum.value, 'd') : ''", "title": "z/D", "titlePadding": -3}},
               "y": {"field": "v", "type": "quantitative", "scale": {"domain": [-0.129, 0.281], "nice": false, "zero": false}, "axis": {"orient": "left", "values": [-0.1,-0.05,0,0.05,0.1,0.15,0.2,0.25], "tickSize": -4, "title": null, "labelExpr": "datum.value === 0 ? '0' : indexof([0.1,0.2], datum.value) >= 0 ? replace(format(datum.value, '.1f'), '.', '. ') : ''"}}
             }},
            {"data": {"name": "b4"}, "transform": [{"filter": "datum.s === 'drag'"}],
             "mark": {"type": "line", "strokeWidth": 1, "color": "black", "interpolate": "monotone"},
             "encoding": {
               "x": {"field": "z", "type": "quantitative", "axis": {"orient": "top", "values": [0,0.2,0.4,0.6,0.8,1,1.2,1.4,1.6,1.8,2,2.2,2.4,2.6,2.8,3,3.2,3.4,3.6,3.8,4,4.2,4.4,4.6,4.8,5], "labels": false, "tickSize": -4, "title": null}},
               "y": {"field": "v", "type": "quantitative", "axis": {"orient": "right", "values": [-0.1,-0.05,0,0.05,0.1,0.15,0.2,0.25], "labels": false, "tickSize": -4, "title": null}}
             }},
            {"data": {"name": "b4"}, "transform": [{"filter": "datum.s === 'all'"}],
             "mark": {"type": "line", "strokeWidth": 2.8, "color": "black", "interpolate": "monotone"},
             "encoding": {
               "x": {"field": "z", "type": "quantitative", "axis": {"orient": "bottom", "values": [1,2,3,4], "grid": true, "gridDash": [1.5,2.5], "gridColor": "black", "gridOpacity": 0.8, "ticks": false, "labels": false, "title": null}},
               "y": {"field": "v", "type": "quantitative", "axis": null}
             }},
            {"data": {"values": [{"t": "r/D=0. 875"}]},
             "mark": {"type": "text", "align": "left", "baseline": "middle", "font": "Liberation Serif", "fontWeight": "bold", "fontSize": 16, "color": "black"},
             "encoding": {"x": {"datum": 0.39, "type": "quantitative", "axis": null}, "y": {"datum": -0.084, "type": "quantitative", "axis": null}, "text": {"field": "t"}}}
          ]
        }
      ]
    }
  ]
}
